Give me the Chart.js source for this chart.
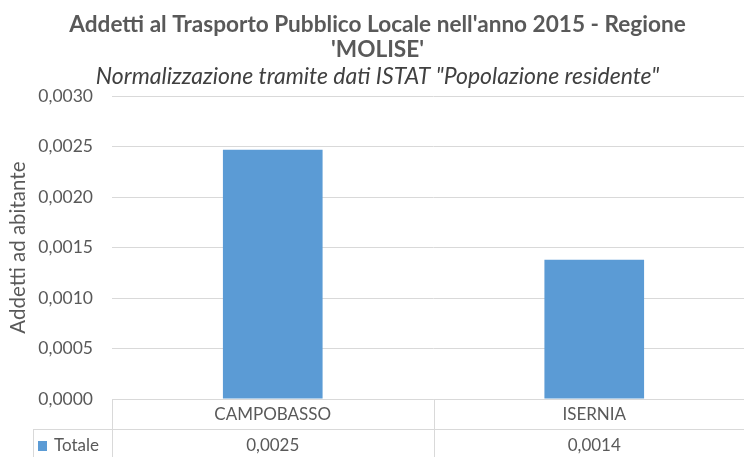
<!DOCTYPE html>
<html>
<head>
<meta charset="utf-8">
<script src="https://cdn.jsdelivr.net/npm/chart.js@4/dist/chart.umd.min.js"></script>
<style>
    html, body { margin: 0; padding: 0; background: #fff; overflow: hidden; }
    #wrap { width: 744px; height: 457px; overflow: hidden; position: relative; }
    #box { width: 800px; height: 457px; position: absolute; left: 0; top: 0; }
</style>
</head>
<body>
<div id="wrap"><div id="box"><canvas id="chart"></canvas></div></div>
<script>
    /* =====================
       DATI
    ===================== */
    const categories = ['CAMPOBASSO', 'ISERNIA'];
    const seriesName = 'Totale';
    const values = [0.00247, 0.00138];
    const yTicks = [0, 0.0005, 0.001, 0.0015, 0.002, 0.0025, 0.003];

    const GRAY = '#595959';
    const GRID = '#d9d9d9';
    const BLUE = '#5b9bd5';
    const FONT = 'Lato, "Open Sans", sans-serif';

    const fmt = (v) => v.toFixed(4).replace('.', ',');

    /* =====================
       TABELLA DATI
    ===================== */
    const dataTable = {
        id: 'dataTable',
        afterDraw(chart) {
            const ctx = chart.ctx;
            const x = chart.scales.x;
            const area = chart.chartArea;
            const top = area.bottom;
            const mid = top + 30;
            const bottom = top + 62;
            const n = categories.length;
            const step = (area.right - area.left) / n;
            const tableLeft = area.left - 79;

            ctx.save();
            ctx.strokeStyle = GRID;
            ctx.lineWidth = 1;
            ctx.beginPath();
            ctx.moveTo(area.left, top + 0.5);
            ctx.lineTo(area.right, top + 0.5);
            ctx.moveTo(tableLeft, mid + 0.5);
            ctx.lineTo(area.right, mid + 0.5);
            ctx.moveTo(tableLeft + 0.5, mid);
            ctx.lineTo(tableLeft + 0.5, bottom);
            for (let i = 0; i <= n; i++) {
                const bx = Math.round(area.left + step * i) + 0.5;
                ctx.moveTo(bx, top);
                ctx.lineTo(bx, bottom);
            }
            ctx.stroke();

            ctx.fillStyle = GRAY;
            ctx.font = '17px ' + FONT;
            ctx.textAlign = 'center';
            ctx.textBaseline = 'middle';
            categories.forEach((c, i) => {
                const cx = x.getPixelForValue(i);
                ctx.fillText(c, cx, top + 16);
                ctx.fillText(fmt(Number(values[i].toFixed(4))), cx, mid + 17);
            });

            ctx.fillStyle = BLUE;
            ctx.fillRect(tableLeft + 5, mid + 12, 9, 10);
            ctx.fillStyle = GRAY;
            ctx.textAlign = 'left';
            ctx.fillText(seriesName, tableLeft + 21, mid + 17);
            ctx.restore();
        },
    };

    /* =====================
       GRAFICO
    ===================== */
    new Chart(document.getElementById('chart'), {
        type: 'bar',
        data: {
            labels: categories,
            datasets: [
                {
                    label: seriesName,
                    data: values,
                    backgroundColor: BLUE,
                    barPercentage: 0.31,
                    categoryPercentage: 1,
                },
            ],
        },
        options: {
            responsive: true,
            maintainAspectRatio: false,
            animation: false,
            layout: { padding: { left: 0, right: 45, top: 0, bottom: 58 } },
            plugins: {
                legend: { display: false },
                tooltip: { enabled: false },
                title: {
                    display: true,
                    text: ["Addetti al Trasporto Pubblico Locale nell'anno 2015 - Regione", "'MOLISE'"],
                    color: GRAY,
                    font: { family: FONT, size: 22.6, weight: 'bold', lineHeight: 1.12 },
                    padding: { top: 12, bottom: 0 },
                },
                subtitle: {
                    display: true,
                    text: 'Normalizzazione tramite dati ISTAT "Popolazione residente"',
                    color: '#404040',
                    font: { family: FONT, size: 23, style: 'italic', lineHeight: 1.2 },
                    padding: { top: 0, bottom: 6 },
                },
            },
            scales: {
                x: {
                    grid: { display: false },
                    border: { display: false },
                    ticks: { display: false },
                    afterFit: (scale) => {
                        scale.height = 0;
                    },
                },
                y: {
                    min: 0,
                    max: 0.003,
                    afterBuildTicks: (scale) => {
                        scale.ticks = yTicks.map((v) => ({ value: v }));
                    },
                    afterFit: (scale) => {
                        scale.width = 112;
                    },
                    grid: { color: GRID, drawTicks: false },
                    border: { display: false },
                    ticks: {
                        color: GRAY,
                        padding: 19,
                        font: { family: FONT, size: 17.5 },
                        callback: (v) => fmt(v),
                    },
                    title: {
                        display: true,
                        text: 'Addetti ad abitante',
                        color: GRAY,
                        font: { family: FONT, size: 20.5 },
                        padding: { top: 6, bottom: 0 },
                    },
                },
            },
        },
        plugins: [dataTable],
    });
</script>
</body>
</html>
